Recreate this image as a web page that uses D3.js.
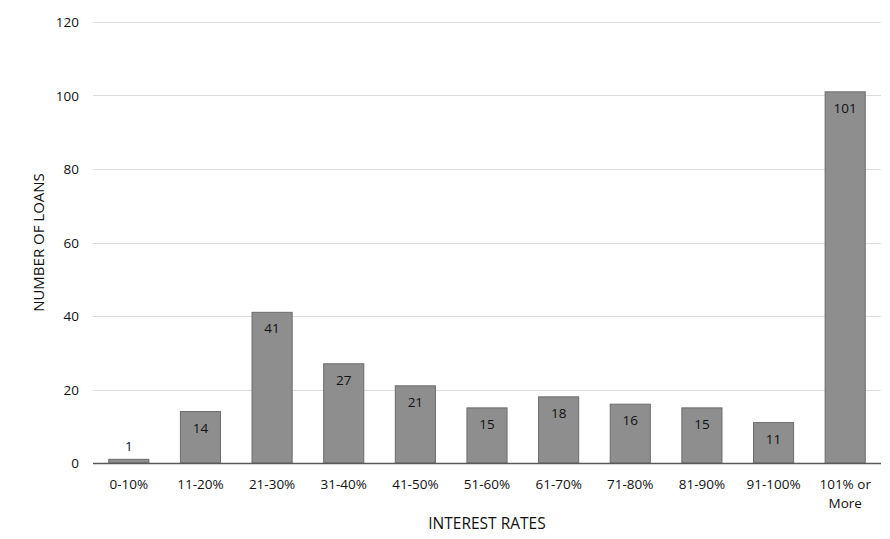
<!DOCTYPE html>
<html>

<head>
    <meta charset="utf-8">
    <title>Loans by interest rate</title>
    <script src="https://d3js.org/d3.v7.min.js"></script>
</head>

<style>
    body {
        margin: 0px;
        background-color: white;
    }

    text {
        font-family: "Open Sans", sans-serif;
        fill: #111111;
    }

    .grid line {
        stroke: #dcdcdc;
        stroke-width: 1px;
    }

    .bar {
        fill: #8e8e8e;
        stroke: #6c6c6c;
        stroke-width: 1px;
    }
</style>

<body>
    <svg id="svg"></svg>

    <script>
        // categories and values
        var categories = ["0-10%", "11-20%", "21-30%", "31-40%", "41-50%", "51-60%",
            "61-70%", "71-80%", "81-90%", "91-100%", "101% or More"]
        var loans = [1, 14, 41, 27, 21, 15, 18, 16, 15, 11, 101]
        var yTicks = [0, 20, 40, 60, 80, 100, 120]

        var width = 890
        var height = 539
        var margin = { top: 22, right: 9, bottom: 76, left: 93 }

        var svg = d3.select("svg")
            .attr("width", width)
            .attr("height", height)

        var x = d3.scaleBand()
            .domain(categories)
            .range([margin.left, width - margin.right])
            .paddingInner(0.44)
            .paddingOuter(0.22)

        var y = d3.scaleLinear()
            .domain([0, 120])
            .range([height - margin.bottom, margin.top])

        // gridlines
        svg.append("g")
            .attr("class", "grid")
            .selectAll("line")
            .data(yTicks.filter(d => d > 0))
            .join("line")
            .attr("x1", margin.left)
            .attr("x2", width - margin.right)
            .attr("y1", d => Math.round(y(d)) + 0.5)
            .attr("y2", d => Math.round(y(d)) + 0.5)

        // y tick labels
        svg.append("g")
            .selectAll("text")
            .data(yTicks)
            .join("text")
            .attr("x", 79)
            .attr("y", d => y(d))
            .attr("text-anchor", "end")
            .attr("dominant-baseline", "central")
            .attr("font-size", 13.5)
            .text(d => d)

        // bars
        svg.append("g")
            .selectAll("rect")
            .data(loans)
            .join("rect")
            .attr("class", "bar")
            .attr("x", (d, i) => x(categories[i]))
            .attr("width", x.bandwidth())
            .attr("y", d => y(d))
            .attr("height", d => y(0) - y(d))

        // value labels (inside top of bar, above when bar is too short)
        svg.append("g")
            .selectAll("text")
            .data(loans)
            .join("text")
            .attr("x", (d, i) => x(categories[i]) + x.bandwidth() / 2)
            .attr("y", d => (y(0) - y(d) < 20) ? y(d) - 13 : y(d) + 16)
            .attr("text-anchor", "middle")
            .attr("dominant-baseline", "central")
            .attr("font-size", 13.5)
            .text(d => d)

        // baseline
        svg.append("line")
            .attr("x1", margin.left)
            .attr("x2", width - margin.right)
            .attr("y1", y(0) + 0.5)
            .attr("y2", y(0) + 0.5)
            .attr("stroke", "#595959")
            .attr("stroke-width", 1.5)

        // x tick labels, wrap "101% or More"
        var xLabels = svg.append("g")
            .selectAll("text")
            .data(categories)
            .join("text")
            .attr("x", d => x(d) + x.bandwidth() / 2)
            .attr("y", y(0) + 21)
            .attr("text-anchor", "middle")
            .attr("dominant-baseline", "central")
            .attr("font-size", 13.5)

        xLabels.each(function (d) {
            var parts = d === "101% or More" ? ["101% or", "More"] : [d]
            d3.select(this).selectAll("tspan")
                .data(parts)
                .join("tspan")
                .attr("x", x(d) + x.bandwidth() / 2)
                .attr("dy", (p, i) => i === 0 ? 0 : 19)
                .text(p => p)
        })

        // axis titles
        svg.append("text")
            .attr("x", (margin.left + width - margin.right) / 2)
            .attr("y", 523)
            .attr("text-anchor", "middle")
            .attr("dominant-baseline", "central")
            .attr("font-size", 15.5)
            .text("INTEREST RATES")

        svg.append("text")
            .attr("transform", "translate(38," + (y(60)) + ") rotate(-90)")
            .attr("text-anchor", "middle")
            .attr("dominant-baseline", "central")
            .attr("font-size", 15)
            .text("NUMBER OF LOANS")
    </script>
</body>

</html>
